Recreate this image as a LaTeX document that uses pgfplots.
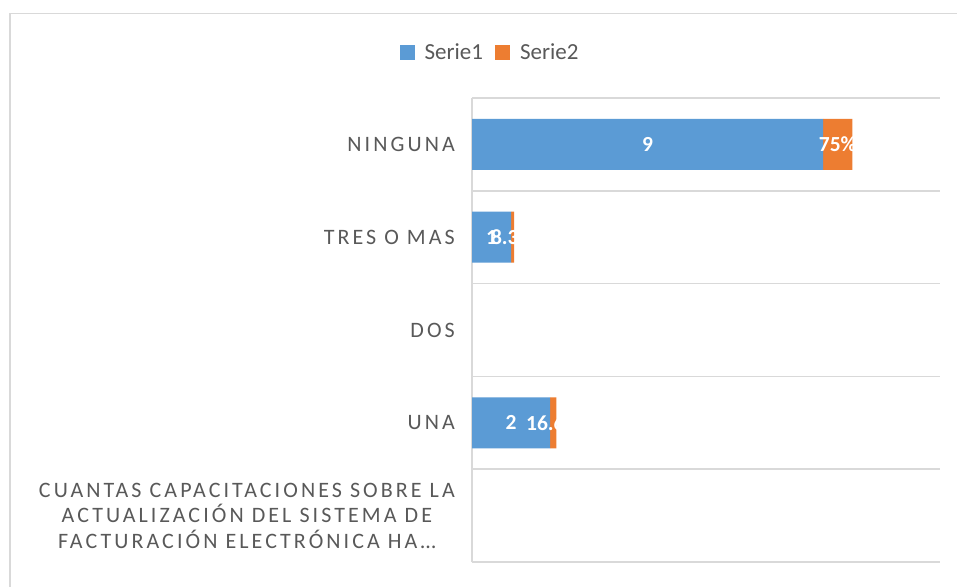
\documentclass[border=0pt]{standalone}
\usepackage{pgfplots}
\pgfplotsset{compat=1.18}
\usepackage{pgfplotstable}
\usepackage{fontspec}
\setmainfont{Carlito}
\newfontfamily\catfont[LetterSpace=14]{Carlito}
\definecolor{blueS}{HTML}{5B9BD5}
\definecolor{orangeS}{HTML}{ED7D31}
\definecolor{txt}{HTML}{595959}
\definecolor{gridc}{HTML}{D9D9D9}

\pgfplotstableread{
y v
1 2
2 0
3 1
4 9
}\serieA
\pgfplotstableread{
y v
1 0.166
2 0
3 0.083
4 0.75
}\serieB

\begin{document}
\begin{tikzpicture}
\useasboundingbox (0,0) rectangle (957bp,587bp);
\fill[white] (0,0) rectangle (957bp,587bp);
\draw[gridc, line width=1.5bp] (10bp,0) -- (10bp,573.5bp) -- (957bp,573.5bp);
\begin{axis}[
  at={(472bp,25bp)}, anchor=south west,
  scale only axis, width=468bp, height=464bp,
  xbar stacked, bar width=0.55,
  xmin=0, xmax=12, ymin=-0.5, ymax=4.5,
  axis x line=none,
  axis y line*=left,
  y axis line style={-, gridc, line width=1.5bp},
  xtick=\empty,
  ytick={0,1,2,3,4},
  yticklabels={{CUANTAS CAPACITACIONES SOBRE LA\\ACTUALIZACIÓN DEL SISTEMA DE\\FACTURACIÓN ELECTRÓNICA HA…},UNA,DOS,TRES O MAS,NINGUNA},
  yticklabel style={font=\catfont\fontsize{22bp}{25.5bp}\selectfont, text=txt, align=center, anchor=east, inner sep=0pt, xshift=-17bp},
  minor ytick={-0.5,0.5,...,4.5},
  yminorgrids, minor grid style={gridc, line width=1.5bp},
  major tick length=0pt, minor tick length=0pt,
  /pgf/number format/assume math mode=true,
  legend style={at={(0.0385,1.099)}, anchor=center, draw=none, fill=none,
    legend columns=-1, font=\fontsize{23bp}{26bp}\selectfont, text=txt,
    /tikz/every odd column/.append style={column sep=8bp},
    /tikz/every even column/.append style={column sep=10bp}},
  legend image code/.code={\fill[#1] (0bp,-7.5bp) rectangle (15bp,7.5bp);},
  nodes near coords,
  every node near coord/.append style={anchor=center, text=white, font=\bfseries\fontsize{21.5bp}{24bp}\selectfont},
]
\addplot[fill=blueS, draw=none, point meta=\thisrow{v},
  nodes near coords={\pgfmathprintnumber{\pgfplotspointmeta}}]
  table[x=v, y=y] {\serieA};
\addplot[fill=orangeS, draw=none, point meta={\thisrow{v}*100},
  nodes near coords={\pgfmathprintnumber[fixed,precision=1]{\pgfplotspointmeta}\%}]
  table[x=v, y=y] {\serieB};
\legend{Serie1,Serie2}
\end{axis}
\end{tikzpicture}
\end{document}
